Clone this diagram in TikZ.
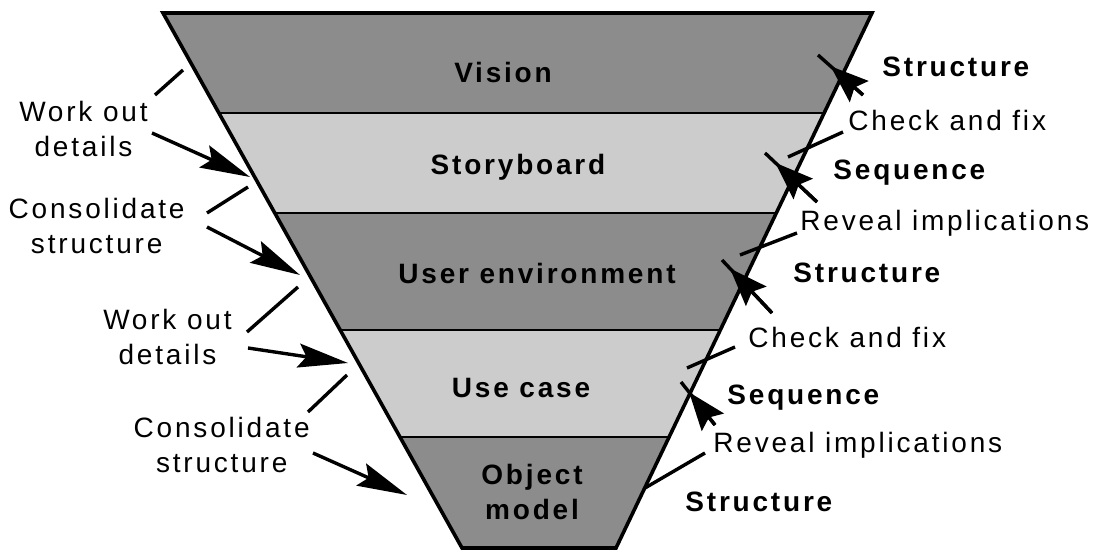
\documentclass[tikz,border=0pt]{standalone}
\usepackage{fontspec}
\setmainfont{Liberation Sans}[LetterSpace=10]
\usetikzlibrary{calc,arrows.meta}
\definecolor{darkband}{gray}{0.55}
\definecolor{lightband}{gray}{0.80}

\begin{document}
\begin{tikzpicture}[x=0.5pt,y=-0.5pt,
    txt/.style={inner sep=0pt,align=center,font=\fontsize{14}{17.5}\selectfont},
    bold/.style={txt,font=\fontsize{14}{17.5}\selectfont\bfseries},
    pointer/.style={line width=1.7pt,-{Stealth[length=25pt,width=12pt,inset=4pt]}},
    cross/.style={line width=1.7pt,-{Stealth[length=19pt,width=14pt,inset=3pt]}},
    tick/.style={line width=1.7pt}]
  \useasboundingbox (0,0) rectangle (1097,550);
  \coordinate (tl) at (163,13);
  \coordinate (tr) at (872,13);
  \coordinate (bl) at (462,548);
  \coordinate (br) at (616,548);
  \coordinate (l1) at ($(tl)!0.1869!(bl)$);
  \coordinate (r1) at ($(tr)!0.1869!(br)$);
  \coordinate (l2) at ($(tl)!0.3738!(bl)$);
  \coordinate (r2) at ($(tr)!0.3738!(br)$);
  \coordinate (l3) at ($(tl)!0.5925!(bl)$);
  \coordinate (r3) at ($(tr)!0.5925!(br)$);
  \coordinate (l4) at ($(tl)!0.7925!(bl)$);
  \coordinate (r4) at ($(tr)!0.7925!(br)$);
  \fill[darkband] (tl) -- (tr) -- (r1) -- (l1) -- cycle;
  \fill[lightband] (l1) -- (r1) -- (r2) -- (l2) -- cycle;
  \fill[darkband] (l2) -- (r2) -- (r3) -- (l3) -- cycle;
  \fill[lightband] (l3) -- (r3) -- (r4) -- (l4) -- cycle;
  \fill[darkband] (l4) -- (r4) -- (br) -- (bl) -- cycle;
  \draw[line width=0.9pt] (l1) -- (r1) (l2) -- (r2) (l3) -- (r3) (l4) -- (r4);
  \draw[line width=1.8pt] (tl) -- (tr) -- (br) -- (bl) -- cycle;

  \node[bold] (vision) at (503,72) {Vision};
  \node[bold] (story) at (518,167) {Storyboard};
  \node[bold] (userenv) at (537,273) {User environment};
  \node[bold] (usecase) at (521,388) {Use case};
  \node[bold] (objmodel) at (532,492) {Object\\model};

  \node[txt,anchor=east] (wod1) at (148,129) {Work out\\details};
  \node[txt,anchor=east] (cos1) at (185,226) {Consolidate\\structure};
  \node[txt,anchor=east] (wod2) at (232,337) {Work out\\details};
  \node[txt,anchor=east] (cos2) at (310,445) {Consolidate\\structure};
  \coordinate (wod1a) at (183,70);
  \coordinate (wod1b) at (250,177);
  \coordinate (cos1a) at (248,187);
  \coordinate (cos1b) at (300,275);
  \coordinate (wod2a) at (298,287);
  \coordinate (wod2b) at (348,363);
  \coordinate (cos2a) at (347,375);
  \coordinate (cos2b) at (407,495);
  \draw[tick] ($(wod1.east)+(7,-34)$) -- (wod1a);
  \draw[pointer] ($(wod1.east)+(4,4)$) -- (wod1b);
  \draw[tick] ($(cos1.east)+(22,-13)$) -- (cos1a);
  \draw[pointer] ($(cos1.east)+(22,1)$) -- (cos1b);
  \draw[tick] ($(wod2.east)+(15,-5)$) -- (wod2a);
  \draw[pointer] ($(wod2.east)+(16,11)$) -- (wod2b);
  \draw[tick] ($(cos2.east)+(-2,-33)$) -- (cos2a);
  \draw[pointer] ($(cos2.east)+(3,8)$) -- (cos2b);

  \node[bold,anchor=west] (str1) at (882,67) {Structure};
  \node[txt,anchor=west] (chk1) at (848,120) {Check and fix};
  \node[bold,anchor=west] (seq1) at (833,173) {Sequence};
  \node[txt,anchor=west] (rev1) at (800,223) {Reveal implications};
  \node[bold,anchor=west] (str2) at (793,273) {Structure};
  \node[txt,anchor=west] (chk2) at (748,337) {Check and fix};
  \node[bold,anchor=west] (seq2) at (727,398) {Sequence};
  \node[txt,anchor=west] (rev2) at (713,445) {Reveal implications};
  \node[bold,anchor=west] (str3) at (685,502) {Structure};

  \coordinate (str1far) at (818,55);
  \coordinate (seq1far) at (765,153);
  \coordinate (str2far) at (722,260);
  \coordinate (seq2far) at (681,382);
  \draw[tick] ($(str1.west)+(-19,28)$) coordinate (str1t) -- (str1far);
  \draw[cross] (str1t) -- ($(str1t)!0.72!(str1far)$);
  \draw[tick] ($(seq1.west)+(-16,29)$) coordinate (seq1t) -- (seq1far);
  \draw[cross] (seq1t) -- ($(seq1t)!0.8!(seq1far)$);
  \draw[tick] ($(str2.west)+(-21,40)$) coordinate (str2t) -- (str2far);
  \draw[cross] (str2t) -- ($(str2t)!0.84!(str2far)$);
  \draw[tick] ($(seq2.west)+(-12,27)$) coordinate (seq2t) -- (seq2far);
  \draw[cross] (seq2t) -- ($(seq2t)!0.76!(seq2far)$);

  \coordinate (chk1end) at (788,157);
  \coordinate (rev1end) at (740,255);
  \coordinate (chk2end) at (687,368);
  \coordinate (rev2end) at (645,488);
  \draw[tick] ($(chk1.west)+(-5,12)$) -- (chk1end);
  \draw[tick] ($(rev1.west)+(-3,10)$) -- (rev1end);
  \draw[tick] ($(chk2.west)+(-13,10)$) -- (chk2end);
  \draw[tick] ($(rev2.west)+(-8,8)$) -- (rev2end);
\end{tikzpicture}
\end{document}
